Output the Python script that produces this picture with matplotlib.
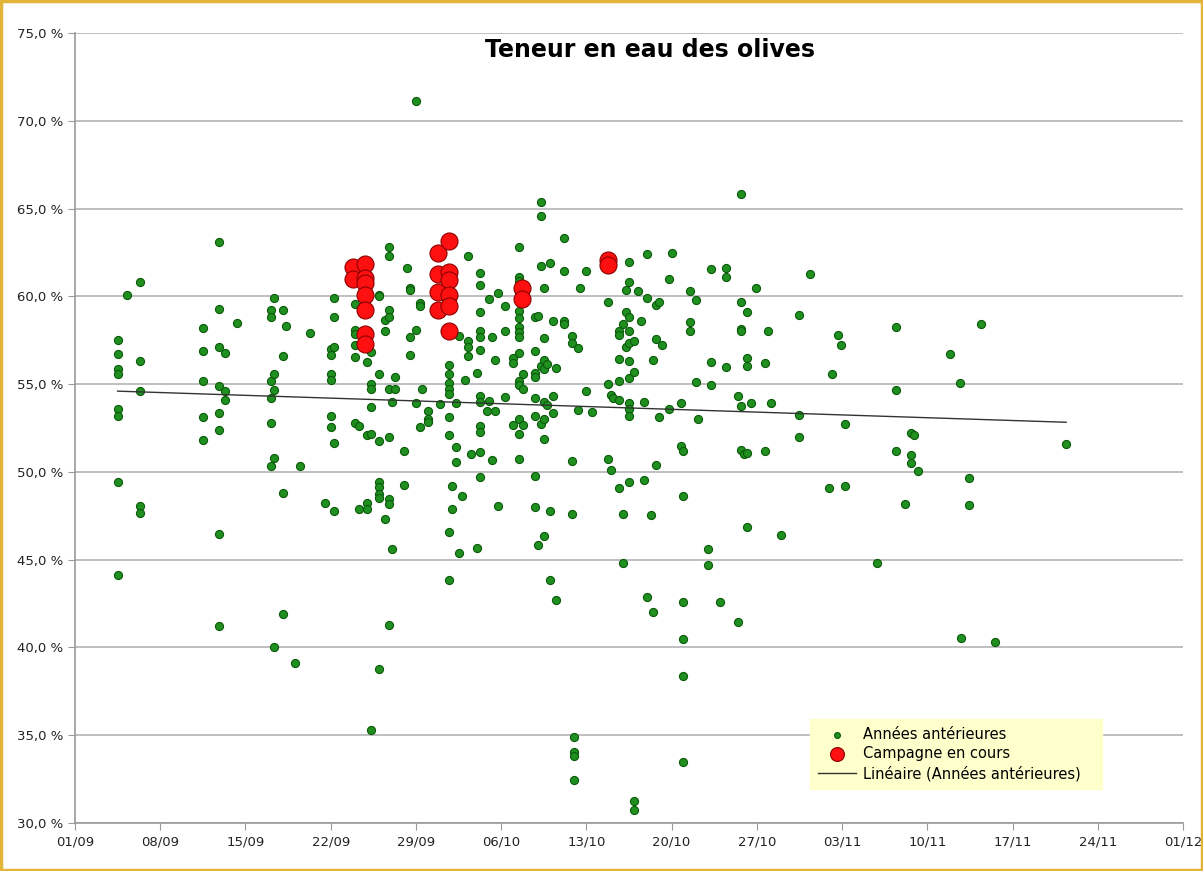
import numpy as np
import matplotlib
matplotlib.use("Agg")
import matplotlib.pyplot as plt
from matplotlib.patches import Rectangle
from matplotlib.ticker import FuncFormatter

# ---- Data: day offset from 01/09, water content (%) ----
# Années antérieures (green) grouped by date column
green_cols = [
    (3.5, [57.5, 56.7, 55.85, 55.6, 53.6, 53.2, 49.4, 44.1]),
    (4.3, [60.1]),
    (5.3, [60.8, 56.3, 54.6, 48.05, 47.65]),
    (10.5, [58.2, 56.9, 55.2, 53.1, 51.8]),
    (11.8, [63.1, 59.3, 57.1, 54.9, 53.35, 52.4, 46.45, 41.2]),
    (12.3, [56.8, 54.6, 54.1]),
    (13.3, [58.5]),
    (16.1, [59.2, 58.8, 55.2, 54.2, 52.8, 50.35]),
    (16.35, [59.9, 55.6, 54.65, 50.8, 40.0]),
    (17.05, [59.2, 56.6, 48.8, 41.9]),
    (17.3, [58.3]),
    (18.1, [39.1]),
    (18.5, [50.35]),
    (19.3, [57.9]),
    (20.55, [48.25]),
    (21.0, [57.0, 56.65, 55.6, 55.25, 53.2, 52.55]),
    (21.3, [59.9, 58.8, 57.1, 51.65, 47.8]),
    (23.0, [59.55, 58.1, 57.85, 57.25, 56.55, 52.8]),
    (23.3, [52.6, 47.9]),
    (24.0, [56.25, 52.1, 48.25, 47.9]),
    (24.3, [56.85, 55.0, 54.7, 53.7, 52.15, 35.3]),
    (25.0, [60.1, 60.0, 55.6, 51.75, 49.4, 49.15, 48.75, 48.5, 38.8]),
    (25.5, [58.65, 58.0, 47.3]),
    (25.8, [62.8, 62.3, 59.2, 58.8, 54.7, 52.0, 48.45, 48.15, 41.3]),
    (26.05, [54.0, 45.6]),
    (26.25, [55.4, 54.7]),
    (27.0, [51.2, 49.25]),
    (27.25, [61.6]),
    (27.5, [60.45, 60.35, 57.7, 56.65]),
    (28.0, [71.1, 58.1, 53.9]),
    (28.3, [59.6, 59.45, 52.55]),
    (28.5, [54.75]),
    (29.0, [53.45, 53.0, 52.85]),
    (30.0, [53.85]),
    (30.7, [56.1, 55.55, 55.05, 54.75, 54.45, 53.1, 52.1, 46.55, 43.85]),
    (31.0, [49.2, 47.9]),
    (31.3, [53.95, 51.4, 50.55]),
    (31.5, [57.75, 45.4]),
    (31.8, [48.65]),
    (32.0, [55.25]),
    (32.3, [62.3, 57.45, 57.1, 56.6]),
    (32.5, [51.0]),
    (33.0, [55.65, 45.65]),
    (33.25, [61.35, 60.65, 59.1, 58.0, 57.7, 56.95, 54.35, 54.0, 52.6, 52.3, 51.15, 49.7]),
    (33.8, [53.45]),
    (34.0, [59.85, 54.05]),
    (34.25, [57.7, 50.7]),
    (34.5, [56.4, 53.45]),
    (34.75, [60.2, 48.05]),
    (35.3, [59.45, 58.0, 54.25]),
    (36.0, [56.5, 56.2, 52.65]),
    (36.5, [62.8, 61.1, 60.9, 59.15, 58.75, 58.25, 57.95, 57.7, 56.8, 55.15, 54.95, 53.0, 52.15, 50.75]),
    (36.8, [55.55, 54.7, 52.65]),
    (37.8, [58.8, 56.9, 55.65, 55.4, 54.2, 53.2, 49.75, 48.0]),
    (38.05, [58.9, 45.85]),
    (38.25, [65.35, 64.6, 61.7, 56.05, 52.75]),
    (38.5, [60.5, 57.65, 56.35, 55.85, 54.0, 53.0, 51.85, 46.35]),
    (38.75, [56.15, 53.8]),
    (39.0, [61.9, 47.75, 43.85]),
    (39.25, [58.6, 54.35, 53.35]),
    (39.5, [55.9, 42.7]),
    (40.2, [63.35, 61.45, 58.6, 58.45]),
    (40.8, [57.75, 57.35, 50.6, 47.6]),
    (41.0, [34.9, 34.05, 33.8, 32.45]),
    (41.3, [57.05, 53.55]),
    (41.5, [60.5]),
    (42.0, [61.45, 54.6]),
    (42.5, [53.4]),
    (43.75, [59.65, 55.0, 50.75]),
    (44.0, [54.4, 50.1]),
    (44.2, [54.2]),
    (44.7, [58.05, 57.8, 56.45, 55.2, 54.1, 49.1]),
    (45.0, [58.45, 47.6, 44.8]),
    (45.25, [60.35, 59.1, 57.1]),
    (45.5, [61.95, 60.8, 58.85, 58.0, 57.35, 56.3, 55.35, 53.9, 53.6, 53.2, 49.45]),
    (45.9, [57.45, 55.7, 31.25, 30.75]),
    (46.2, [60.3]),
    (46.5, [58.6]),
    (46.7, [54.0, 49.55]),
    (47.0, [62.4, 59.9, 42.9]),
    (47.3, [47.55]),
    (47.5, [56.4, 42.0]),
    (47.75, [59.5, 57.55, 50.4]),
    (48.0, [59.65, 53.1]),
    (48.25, [57.2]),
    (48.75, [61.0, 53.6]),
    (49.0, [62.45]),
    (49.75, [53.95, 51.5]),
    (49.95, [51.2, 48.6, 42.6, 40.5, 38.35, 33.5]),
    (50.5, [60.3, 58.55, 58.0]),
    (51.0, [59.8, 55.1]),
    (51.2, [53.0]),
    (51.95, [45.6, 44.7]),
    (52.2, [61.55, 56.25, 54.95]),
    (52.95, [42.6]),
    (53.5, [61.6, 61.1, 56.0]),
    (54.45, [54.35, 41.45]),
    (54.7, [65.85, 59.7, 58.15, 58.0, 53.75, 51.25]),
    (54.95, [51.0]),
    (55.2, [59.1, 56.5, 56.05, 51.1, 46.85]),
    (55.5, [53.9]),
    (55.95, [60.5]),
    (56.7, [56.2, 51.2]),
    (56.95, [58.0]),
    (57.2, [53.95]),
    (57.95, [46.4]),
    (59.5, [58.95, 53.25, 52.0]),
    (60.4, [61.3]),
    (61.9, [49.1]),
    (62.2, [55.6]),
    (62.7, [57.8]),
    (62.95, [57.2]),
    (63.2, [52.75, 49.2]),
    (65.9, [44.8]),
    (67.45, [58.25, 54.65, 51.2]),
    (68.2, [48.15]),
    (68.7, [52.2, 50.95, 50.5]),
    (68.9, [52.1]),
    (69.2, [50.05]),
    (71.9, [56.7]),
    (72.65, [55.05]),
    (72.75, [40.55]),
    (73.4, [49.65, 48.1]),
    (74.4, [58.45]),
    (75.6, [40.3]),
    (81.4, [51.6]),
]

# Campagne en cours (red)
red_cols = [
    (22.8, [61.65, 61.0]),
    (23.8, [61.85, 61.05, 60.75, 60.05, 59.25, 57.85, 57.3]),
    (29.8, [62.45, 61.3, 60.25, 59.25]),
    (30.7, [63.15, 61.4, 60.95, 60.1, 59.45, 58.0]),
    (36.75, [60.5, 59.85]),
    (43.75, [62.05, 61.8]),
]

x_tick_days = [0, 7, 14, 21, 28, 35, 42, 49, 56, 63, 70, 77, 84, 91]
x_tick_labels = ["01/09", "08/09", "15/09", "22/09", "29/09", "06/10", "13/10",
                 "20/10", "27/10", "03/11", "10/11", "17/11", "24/11", "01/12"]
y_ticks = [30, 35, 40, 45, 50, 55, 60, 65, 70, 75]

title = "Teneur en eau des olives"
label_green = "Années antérieures"
label_red = "Campagne en cours"
label_trend = "Linéaire (Années antérieures)"

gx = np.array([d for d, vals in green_cols for _ in vals])
gy = np.array([v for _, vals in green_cols for v in vals])
rx = np.array([d for d, vals in red_cols for _ in vals])
ry = np.array([v for _, vals in red_cols for v in vals])

# ---- Figure ----
fig = plt.figure(figsize=(12.03, 8.71), dpi=100)
fig.patch.set_facecolor("white")
ax = fig.add_axes([75/1203, 48/871, 1108/1203, 790/871])

ax.set_xlim(0, 91)
ax.set_ylim(30, 75)

for v in y_ticks:
    ax.axhline(v, color="#b4b4b4", lw=1.2, zorder=0)

ax.scatter(gx, gy, s=34, color="#1f8f1f", edgecolors="#0b5a0b", linewidths=0.8,
           zorder=3, label=label_green)
ax.scatter(rx, ry, s=150, color="#ff1010", edgecolors="#8a0000", linewidths=0.8,
           zorder=4, label=label_red)

coef = np.polyfit(gx, gy, 1)
xt = np.array([gx.min(), gx.max()])
ax.plot(xt, np.polyval(coef, xt), color="#333333", lw=1.0, zorder=5, label=label_trend)

ax.set_xticks(x_tick_days)
ax.set_xticklabels(x_tick_labels)
ax.set_yticks(y_ticks)
ax.yaxis.set_major_formatter(FuncFormatter(lambda v, p: f"{v:.1f}".replace(".", ",") + " %"))
ax.tick_params(axis="both", labelsize=9.5, colors="#222222", length=5, color="#999999")
ax.tick_params(axis="x", pad=4)

for s in ["top", "right"]:
    ax.spines[s].set_visible(False)
for s in ["left", "bottom"]:
    ax.spines[s].set_color("#999999")
    ax.spines[s].set_linewidth(1.2)

fig.text(650/1203, 1 - 50/871, title, ha="center", va="center",
         fontsize=17, fontweight="bold", color="black")

leg = ax.legend(loc="lower left", bbox_to_anchor=(0.663, 0.043, 0.264, 0.095),
                mode="expand", frameon=True, fancybox=False, framealpha=1,
                facecolor="#ffffcc", edgecolor="#ffffcc", fontsize=10.5,
                handlelength=2.6, handletextpad=0.5, borderpad=0.55,
                labelspacing=0.3, borderaxespad=0)
for h in leg.legend_handles[:1]:
    h.set_sizes([18])
for h in leg.legend_handles[1:2]:
    h.set_sizes([100])

fig.patches.append(Rectangle((0.001, 0.001), 0.998, 0.998, transform=fig.transFigure,
                             fill=False, edgecolor="#e2b43a", linewidth=2.5))

fig.savefig("out.png", dpi=100)
